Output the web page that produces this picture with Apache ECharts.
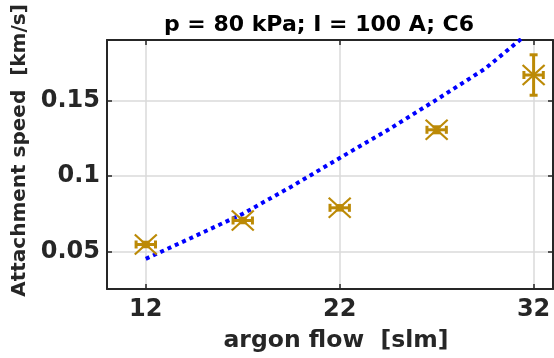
<!DOCTYPE html>
<html>
<head>
<meta charset="utf-8">
<script src="https://cdn.jsdelivr.net/npm/echarts@6.0.0/dist/echarts.min.js"></script>
<style>
  html, body { margin: 0; padding: 0; background: #fff; }
  #chart { width: 554px; height: 358px; }
</style>
</head>
<body>
<div id="chart"></div>
<script>
// measured points: argon flow [slm], attachment speed [km/s], errors
const flows = [12, 17, 22, 27, 32];
const speeds = [0.0545, 0.0704, 0.0788, 0.1305, 0.1668];
const speedErr = [0.0015, 0.0015, 0.0015, 0.002, 0.0134];
const flowErr = [0.5, 0.5, 0.5, 0.5, 0.5];

// model curve (blue dotted)
const modelFlows = [12, 14.5, 17, 19.5, 22, 24.5, 27, 29.5, 32];
const modelSpeeds = [0.045, 0.0598, 0.0748, 0.0928, 0.1118, 0.1305, 0.1505, 0.171, 0.1975];

const xTicks = [12, 22, 32];
const yTicks = [0.05, 0.1, 0.15];

const textColor = '#262626';
const markerColor = '#BC8A06';
const font = 'DejaVu Sans';

const chart = echarts.init(document.getElementById('chart'));

// errorbars + 'x' marker, all positioned through api.coord
function renderPoint(params, api) {
  const x = api.value(0), y = api.value(1);
  const ey = api.value(2), ex = api.value(3);
  const c = api.coord([x, y]);
  const top = api.coord([x, y + ey]);
  const bot = api.coord([x, y - ey]);
  const lft = api.coord([x - ex, y]);
  const rgt = api.coord([x + ex, y]);
  const cap = 4;
  const mk = 11, mky = 10;
  const style = { stroke: markerColor, lineWidth: 3, fill: null };
  const thin = { stroke: markerColor, lineWidth: 2.2, fill: null };
  const line = (x1, y1, x2, y2, s) => ({
    type: 'line', shape: { x1, y1, x2, y2 }, style: s || style
  });
  return {
    type: 'group',
    children: [
      line(c[0], top[1], c[0], bot[1]),
      line(c[0] - cap, top[1], c[0] + cap, top[1]),
      line(c[0] - cap, bot[1], c[0] + cap, bot[1]),
      line(lft[0], c[1], rgt[0], c[1]),
      line(lft[0], c[1] - cap, lft[0], c[1] + cap),
      line(rgt[0], c[1] - cap, rgt[0], c[1] + cap),
      line(c[0] - mk, c[1] - mky, c[0] + mk, c[1] + mky, thin),
      line(c[0] - mk, c[1] + mky, c[0] + mk, c[1] - mky, thin)
    ]
  };
}

const axisLine = { show: true, onZero: false, lineStyle: { color: textColor, width: 2 } };
const tick = (vals) => ({ show: true, inside: true, length: 5, customValues: vals,
  lineStyle: { color: textColor, width: 1.5 } });
const tickFont = { color: textColor, fontSize: 24, fontWeight: 'bold', fontFamily: font };

const option = {
  animation: false,
  backgroundColor: '#fff',
  title: {
    text: 'p = 80 kPa; I = 100 A; C6',
    left: 314, top: 9, textAlign: 'center',
    textStyle: { color: '#000', fontSize: 22, fontWeight: 'bold', fontFamily: font }
  },
  grid: { left: 107, top: 40, width: 446, height: 249, containLabel: false, outerBoundsMode: 'none' },
  xAxis: [
    {
      type: 'value', position: 'bottom', min: 10, max: 33,
      axisLine, axisTick: tick(xTicks),
      axisLabel: Object.assign({ customValues: xTicks, margin: 9 }, tickFont),
      splitLine: { show: true, lineStyle: { color: '#dadada', width: 1.5 } },
      name: 'argon flow  [slm]', nameLocation: 'middle', nameGap: 40,
      nameTextStyle: { color: textColor, fontSize: 23.5, fontWeight: 'bold', fontFamily: font,
        padding: [0, 0, 0, 12] }
    },
    {
      type: 'value', position: 'top', min: 10, max: 33,
      axisLine, axisTick: tick(xTicks),
      axisLabel: { show: false }, splitLine: { show: false }
    }
  ],
  yAxis: [
    {
      type: 'value', position: 'left', min: 0.025, max: 0.19,
      axisLine, axisTick: tick(yTicks),
      axisLabel: Object.assign({ customValues: yTicks, margin: 7 }, tickFont),
      splitLine: { show: true, lineStyle: { color: '#dadada', width: 1.5 } },
      name: 'Attachment speed  [km/s]', nameLocation: 'middle', nameGap: 73,
      nameRotate: 90,
      nameTextStyle: { color: textColor, fontSize: 20, fontWeight: 'bold', fontFamily: font,
        padding: [0, 0, 0, 28] }
    },
    {
      type: 'value', position: 'right', min: 0.025, max: 0.19,
      axisLine, axisTick: tick(yTicks),
      axisLabel: { show: false }, splitLine: { show: false }
    }
  ],
  series: [
    {
      type: 'line',
      data: modelFlows.map((f, i) => [f, modelSpeeds[i]]),
      showSymbol: false, symbol: 'none', smooth: false, clip: true,
      lineStyle: { color: '#0000FF', width: 4, type: [4, 4], cap: 'butt' },
      z: 3
    },
    {
      type: 'custom',
      data: flows.map((f, i) => [f, speeds[i], speedErr[i], flowErr[i]]),
      renderItem: renderPoint,
      clip: false,
      z: 4
    }
  ]
};

chart.setOption(option);
</script>
</body>
</html>
